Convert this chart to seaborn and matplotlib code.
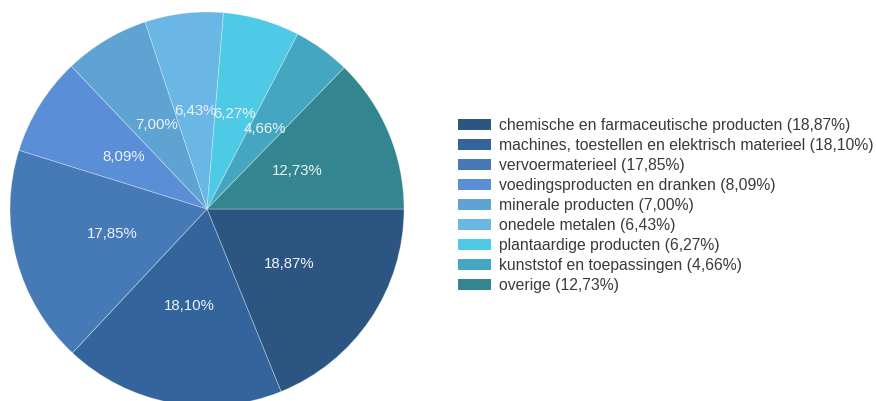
import matplotlib
matplotlib.use("Agg")
import matplotlib.pyplot as plt
import seaborn as sns

categories = [
    "chemische en farmaceutische producten",
    "machines, toestellen en elektrisch materieel",
    "vervoermaterieel",
    "voedingsproducten en dranken",
    "minerale producten",
    "onedele metalen",
    "plantaardige producten",
    "kunststof en toepassingen",
    "overige",
]
shares = [18.87, 18.10, 17.85, 8.09, 7.00, 6.43, 6.27, 4.66, 12.73]
slice_colors = [
    "#2c5681", "#33649b", "#467ab7", "#5a8fd8", "#5fa3d3",
    "#6ab6e4", "#4ecae6", "#44a6c0", "#33858f",
]


def fmt(v):
    return "{:.2f}%".format(v).replace(".", ",")


def plot_pie():
    sns.set_theme(style="white")
    plt.rcParams["font.family"] = ["Liberation Sans", "DejaVu Sans"]
    palette = sns.color_palette(slice_colors)

    fig = plt.figure(figsize=(8.76, 4.01), dpi=100)
    ax = fig.add_axes([10 / 876, -5 / 401, 394 / 876, 394 / 401])

    wedges, texts, autotexts = ax.pie(
        shares,
        colors=palette,
        startangle=0,
        counterclock=False,
        autopct=lambda p: "",
        pctdistance=0.5,
        wedgeprops=dict(edgecolor=(1, 1, 1, 0.35), linewidth=0.6),
    )
    for w, v, t in zip(wedges, shares, autotexts):
        t.set_text(fmt(v))
        t.set_color("#eef3f8")
        t.set_fontsize(10.8)
    ax.set_xlim(-1, 1)
    ax.set_ylim(-1, 1)
    ax.set_aspect("equal")
    ax.axis("off")

    labels = ["{} ({})".format(c, fmt(v)) for c, v in zip(categories, shares)]
    leg = fig.legend(
        wedges,
        labels,
        loc="upper left",
        bbox_to_anchor=(458 / 876, 1 - 118 / 401),
        frameon=False,
        fontsize=11.3,
        handlelength=2.1,
        handleheight=0.64,
        handletextpad=0.5,
        labelspacing=0.32,
        borderpad=0,
        borderaxespad=0,
    )
    for t in leg.get_texts():
        t.set_color("#3a3a3a")
    for h in leg.legend_handles:
        h.set_edgecolor("none")

    fig.savefig("out.png", dpi=100)


if __name__ == "__main__":
    plot_pie()
